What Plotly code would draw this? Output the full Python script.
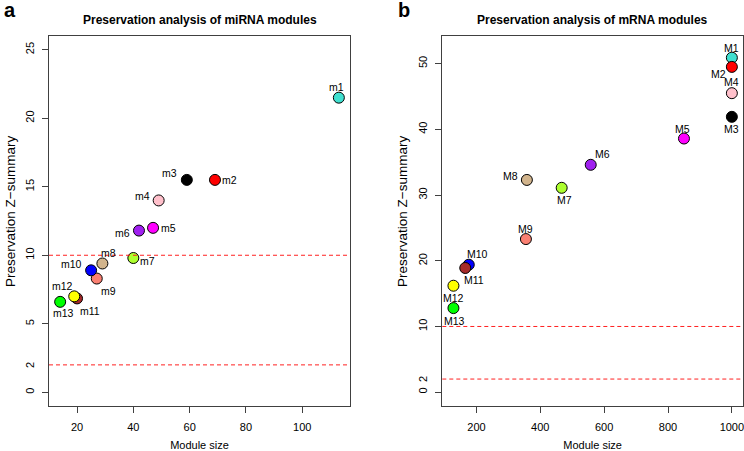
import plotly.graph_objects as go

# module colours (same order for both panels, R colour names)
colors = ["#40E0D0", "#FF0000", "#000000", "#FFC0CB", "#FF00FF", "#A020F0", "#ADFF2F",
          "#D2B48C", "#FA8072", "#0000FF", "#A52A2A", "#FFFF00", "#00FF00"]

# panel a: miRNA modules
mirna_labels = ["m1", "m2", "m3", "m4", "m5", "m6", "m7", "m8", "m9", "m10", "m11", "m12", "m13"]
mirna_size = [113, 69, 59, 49, 47, 42, 40, 29, 27, 25, 20, 19, 14]
mirna_z = [21.5, 15.5, 15.5, 14.0, 12.0, 11.8, 9.8, 9.4, 8.3, 8.9, 6.85, 7.0, 6.6]

# panel b: mRNA modules
mrna_labels = ["M1", "M2", "M3", "M4", "M5", "M6", "M7", "M8", "M9", "M10", "M11", "M12", "M13"]
mrna_size = [1000, 1000, 1000, 1000, 850, 558, 467, 358, 355, 176, 165, 128, 128]
mrna_z = [50.9, 49.5, 41.9, 45.5, 38.6, 34.6, 31.1, 32.3, 23.3, 19.4, 18.9, 16.2, 12.8]

thresholds = [2, 10]

# label offsets in px (style only)
shift_a = [(-2, 11), (15, 0), (-17, 7), (-16, 4), (15, 0), (-16, -2), (14, -3),
           (6, 10), (12, -12), (-20, 6), (13, -13), (-12, 10), (3, -11)]
shift_b = [(0, 10), (-13, -7), (0, -12), (0, 11), (-1, 10), (12, 11), (3, -12),
           (-16, 4), (0, 10), (9, 11), (9, -12), (0, -12), (1, -13)]

FONT = "Liberation Sans, Arial, sans-serif"
AX = "#404040"

fig = go.Figure()
fig.add_trace(go.Scatter(
    x=mirna_size, y=mirna_z, mode="markers",
    marker=dict(size=11, color=colors, line=dict(color="black", width=1)),
    xaxis="x", yaxis="y", showlegend=False, cliponaxis=False,
))
fig.add_trace(go.Scatter(
    x=mrna_size, y=mrna_z, mode="markers",
    marker=dict(size=11, color=colors, line=dict(color="black", width=1)),
    xaxis="x2", yaxis="y2", showlegend=False, cliponaxis=False,
))

# point labels
for xr, yr, labs, xs, ys, shifts in [("x", "y", mirna_labels, mirna_size, mirna_z, shift_a),
                                     ("x2", "y2", mrna_labels, mrna_size, mrna_z, shift_b)]:
    for lab, xv, yv, (dx, dy) in zip(labs, xs, ys, shifts):
        fig.add_annotation(text=lab, x=xv, y=yv, xref=xr, yref=yr, showarrow=False,
                           xanchor="center", yanchor="middle", xshift=dx, yshift=dy,
                           font=dict(size=10.5, color="black", family=FONT))

axis_style = dict(
    showline=True, mirror=True, linecolor=AX, linewidth=1,
    ticks="outside", ticklen=6, tickcolor=AX, tickwidth=1,
    showgrid=False, zeroline=False, automargin=False, ticklabeloverflow="allow",
    tickfont=dict(size=11, color="black", family=FONT),
    title_font=dict(size=11, color="black", family=FONT),
)

ydom = [1 - 406 / 451, 1 - 36 / 451]
fig.update_layout(
    xaxis=dict(domain=[49 / 744, 350 / 744], range=[10.04, 116.96],
               tickvals=[20, 40, 60, 80, 100], title=dict(text="Module size", standoff=11),
               anchor="y", ticklabelstandoff=5, **axis_style),
    yaxis=dict(domain=ydom, range=[-1, 26], tickvals=[0, 5, 10, 15, 20, 25], tickangle=-90,
               anchor="x", ticklabelstandoff=4, **axis_style),
    xaxis2=dict(domain=[442.3 / 744, 743 / 744], range=[93.1, 1034.9],
                tickvals=[200, 400, 600, 800, 1000], title=dict(text="Module size", standoff=11),
                anchor="y2", ticklabelstandoff=5, **axis_style),
    yaxis2=dict(domain=ydom, range=[-2.1, 54.2], tickvals=[0, 10, 20, 30, 40, 50], tickangle=-90,
                anchor="x2", ticklabelstandoff=4, **axis_style),
    width=744, height=451,
    margin=dict(l=0, r=0, t=0, b=0),
    paper_bgcolor="white", plot_bgcolor="white",
    font=dict(family=FONT, color="black"),
)

# threshold lines
for xr, yr in [("x", "y"), ("x2", "y2")]:
    for t in thresholds:
        fig.add_shape(type="line", xref=f"{xr} domain", yref=yr, x0=0, x1=1, y0=t, y1=t,
                      line=dict(color="#ff2020", width=1, dash="4px,3px"))

# "2" threshold label on the y axes (no tick mark)
for yr, xpos in [("y", 30 / 744), ("y2", 423 / 744)]:
    fig.add_annotation(text="2", x=xpos, xref="paper", y=thresholds[0], yref=yr,
                       xanchor="center", yanchor="middle",
                       showarrow=False, textangle=-90, font=dict(size=11, family=FONT))

# y axis titles
for xpos in [10 / 744, 402 / 744]:
    fig.add_annotation(text="Preservation Z\u2212summary", x=xpos, y=1 - 212 / 451,
                       xref="paper", yref="paper", xanchor="center", yanchor="middle",
                       showarrow=False, textangle=-90, font=dict(size=13.5, family=FONT))

# titles and panel letters
titles = ["Preservation analysis of miRNA modules", "Preservation analysis of mRNA modules"]
centers = [(49 + 350) / 2 / 744, (442.3 + 743) / 2 / 744]
for t, c in zip(titles, centers):
    fig.add_annotation(text=f"<b>{t}</b>", x=c, y=1 - 20 / 451, xref="paper", yref="paper",
                       xanchor="center", yanchor="middle",
                       showarrow=False, font=dict(size=12, family=FONT))
for letter, lx in [("a", 10 / 744), ("b", 404 / 744)]:
    fig.add_annotation(text=f"<b>{letter}</b>", x=lx, y=1 - 10 / 451, xref="paper", yref="paper",
                       xanchor="center", yanchor="middle",
                       showarrow=False, font=dict(size=20, family=FONT))

fig.write_html("out.html", config={"displayModeBar": False},
               post_script="document.body.style.margin='0px';")
